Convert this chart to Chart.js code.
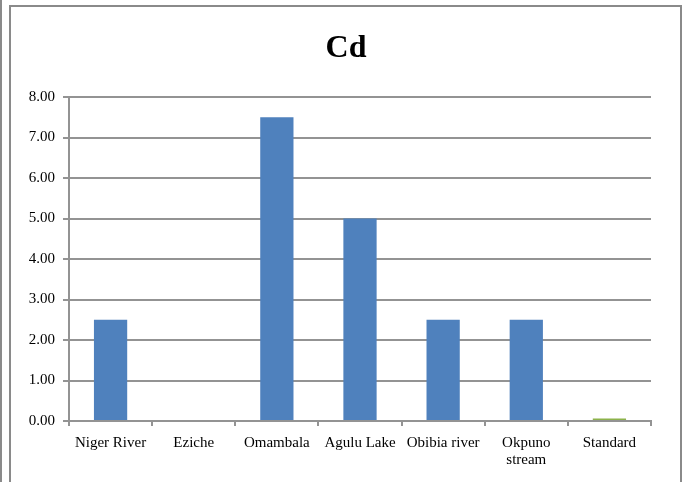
<!DOCTYPE html>
<html>
<head>
<meta charset="utf-8">
<script src="https://cdn.jsdelivr.net/npm/chart.js@4"></script>
<style>
  body { margin: 0; background: #fff; }
  #wrap { position: relative; width: 682px; height: 482px; overflow: hidden; }
  #c { position: absolute; left: 0; top: 0; }
  .edge { position: absolute; border-left: 2px solid #8a8a8a; top: 0; left: 0; height: 482px; }
  .frame { position: absolute; left: 9px; top: 5px; width: 669px; height: 500px; border: 2px solid #8a8a8a; }
</style>
</head>
<body>
<div id="wrap">
  <div class="edge"></div>
  <div class="frame"></div>
  <canvas id="c" width="682" height="482"></canvas>
</div>
<script>
// Cd concentration per sampling site, plus the standard
const sites = ['Niger River', 'Eziche', 'Omambala', 'Agulu Lake', 'Obibia river', ['Okpuno', 'stream'], 'Standard']
const cdValues = [2.5, 0, 7.5, 5.0, 2.5, 2.5, null]
const standardValues = [null, null, null, null, null, null, 0.003]
const yTicks = [0, 1, 2, 3, 4, 5, 6, 7, 8]
const title = 'Cd'

const gray = '#939393'
const serif = "'Liberation Serif', 'Times New Roman', serif"

// title sits a bit right of the canvas centre, so draw it by hand
const titlePlugin = {
  id: 'cdTitle',
  afterDraw(chart) {
    const ctx = chart.ctx
    ctx.save()
    ctx.font = 'bold 32px ' + serif
    ctx.fillStyle = '#000'
    ctx.textAlign = 'center'
    ctx.textBaseline = 'alphabetic'
    ctx.fillText(title, 346, 57)
    ctx.restore()
  }
}

new Chart(document.getElementById('c'), {
  type: 'bar',
  data: {
    labels: sites,
    datasets: [
      {
        data: cdValues,
        backgroundColor: '#4f81bd',
        barPercentage: 0.4,
        categoryPercentage: 1
      },
      {
        // the standard is tiny, keep it visible as a thin green strip
        data: standardValues,
        backgroundColor: '#8cb24a',
        barPercentage: 0.4,
        categoryPercentage: 1,
        minBarLength: 2.5
      }
    ]
  },
  plugins: [titlePlugin],
  options: {
    responsive: false,
    animation: false,
    layout: { padding: { left: 0, right: 31, top: 97, bottom: 0 } },
    plugins: {
      legend: { display: false },
      tooltip: { enabled: false }
    },
    scales: {
      x: {
        stacked: true,
        grid: { drawOnChartArea: false, drawTicks: true, tickLength: 5, color: gray, lineWidth: 2, offset: true },
        border: { color: gray, width: 2 },
        ticks: { color: '#000', font: { family: serif, size: 15, lineHeight: 1.1 }, padding: 9, maxRotation: 0, autoSkip: false },
        afterFit: (scale) => { scale.height = 61 }
      },
      y: {
        stacked: true,
        min: 0,
        max: 8,
        afterBuildTicks: (scale) => { scale.ticks = yTicks.map(v => ({ value: v })) },
        grid: { color: gray, lineWidth: 2, tickLength: 6 },
        border: { color: gray, width: 2 },
        ticks: {
          color: '#000',
          font: { family: serif, size: 15 },
          padding: 8,
          callback: (v) => Number(v).toFixed(2)
        },
        afterFit: (scale) => { scale.width = 69 }
      }
    }
  }
})
</script>
</body>
</html>
